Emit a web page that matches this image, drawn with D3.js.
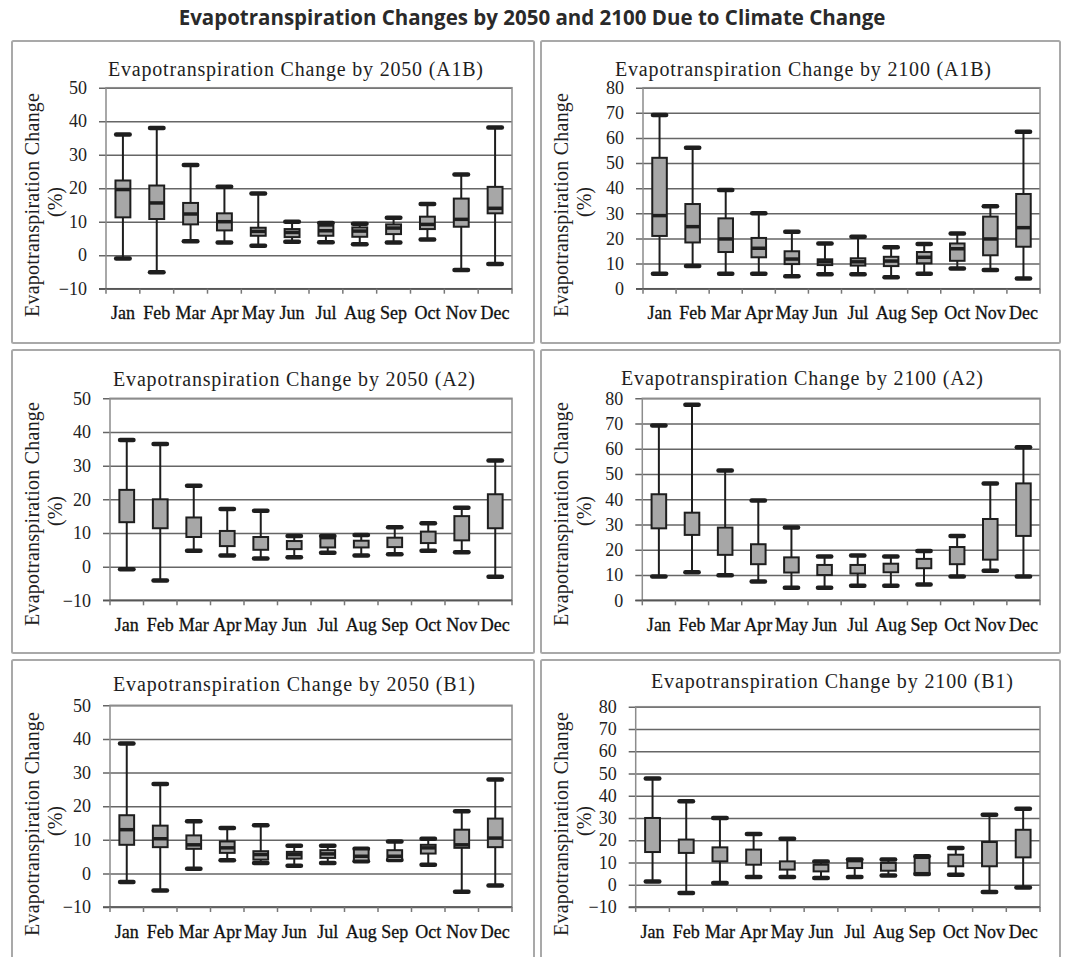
<!DOCTYPE html>
<html>
<head>
<meta charset="utf-8">
<script src="https://cdn.jsdelivr.net/npm/d3@7"></script>
<style>
  body { margin: 0; background: #fff; }
  svg { display: block; }
</style>
</head>
<body>
<svg id="chart" width="1065" height="957"></svg>
<script>
// Month categories shared by every panel
const months = ["Jan", "Feb", "Mar", "Apr", "May", "Jun", "Jul", "Aug", "Sep", "Oct", "Nov", "Dec"];

// Evapotranspiration change (%) — A1B scenario, 2050
const a1b2050Max = [36, 38, 26.9, 20.4, 18.4, 10, 9.6, 9.4, 11.2, 15.3, 24.1, 38.1];
const a1b2050Q3  = [22.3, 20.8, 15.6, 12.5, 8.2, 7.8, 8.8, 8.3, 9.2, 11.5, 16.9, 20.4];
const a1b2050Med = [19.6, 15.6, 12.3, 10, 7.1, 6.8, 7.3, 7.2, 8.1, 9.2, 10.7, 14];
const a1b2050Q1  = [11.3, 10.8, 9.2, 7.4, 5.8, 5.4, 5.8, 5.5, 6.3, 7.8, 8.5, 12.5];
const a1b2050Min = [-1, -5.1, 4.2, 3.8, 2.8, 4, 3.9, 3.3, 3.8, 4.7, -4.4, -2.6];

// A1B scenario, 2100
const a1b2100Max = [69.1, 56.1, 39.3, 30, 22.7, 18, 20.7, 16.5, 17.8, 22, 32.8, 62.5];
const a1b2100Q3  = [52.1, 33.7, 28, 20.2, 14.9, 11.7, 12.1, 12.7, 14.6, 18, 28.7, 37.7];
const a1b2100Med = [29.1, 24.7, 19.8, 16.1, 11.8, 10.7, 10.7, 11, 12.5, 15.9, 19.8, 24.3];
const a1b2100Q1  = [21, 18.4, 14.6, 12.5, 9.8, 9.4, 9.2, 9, 10.1, 11.1, 13.3, 16.7];
const a1b2100Min = [6, 9, 6, 6, 5, 5.8, 5.8, 4.6, 6, 8, 7.4, 4.1];

// A2 scenario, 2050
const a22050Max = [37.6, 36.4, 24, 17.1, 16.6, 9.1, 9.1, 9.4, 11.7, 12.9, 17.5, 31.5];
const a22050Q3  = [22.8, 20, 14.6, 10.6, 8.8, 7.6, 8.4, 7.7, 8.6, 10.4, 15, 21.5];
const a22050Q1  = [13.2, 11.4, 8.8, 6.1, 5, 5.2, 5.7, 5.7, 5.8, 7, 7.8, 11.4];
const a22050Min = [-0.8, -4.1, 4.7, 3.3, 2.4, 2.8, 4.1, 3.3, 3.7, 4.7, 4.3, -3];

// A2 scenario, 2100
const a22100Max = [69.2, 77.4, 51.4, 39.5, 28.8, 17.3, 17.7, 17.3, 19.5, 25.5, 46.3, 60.6];
const a22100Q3  = [42, 34.7, 28.8, 22.2, 17, 14, 14, 14.5, 16.4, 21.1, 32.2, 46.3];
const a22100Q1  = [28.5, 25.9, 18, 14.3, 11, 10, 10.6, 11.1, 12.7, 14.3, 16.1, 25.5];
const a22100Min = [9.4, 11.1, 9.9, 7.4, 5, 5, 5.8, 5.8, 6.3, 9.4, 11.7, 9.4];

// B1 scenario, 2050
const b12050Max = [38.6, 26.6, 15.5, 13.5, 14.3, 8.2, 8.2, 7.3, 9.5, 10.3, 18.5, 27.9];
const b12050Q3  = [17.3, 14.2, 11.3, 9.5, 6.6, 6.4, 6.9, 7.1, 6.9, 8.5, 13, 16.3];
const b12050Med = [13, 10.3, 8.5, 7.6, 5.6, 5.6, 5.8, 5.1, 5.1, 7.6, 8.5, 10.5];
const b12050Q1  = [8.5, 7.8, 7.3, 6.1, 4.1, 4.4, 4.6, 3.8, 4, 5.9, 7.6, 7.8];
const b12050Min = [-2.6, -5.1, 1.4, 3.9, 3.1, 2.3, 3.1, 3.6, 4, 2.6, -5.5, -3.6];

// B1 scenario, 2100
const b12100Max = [47.7, 37.5, 30, 22.8, 20.7, 10.5, 11.3, 11.3, 12.8, 16.5, 31.5, 34.2];
const b12100Q3  = [30, 20.3, 16.8, 15.8, 10.5, 9, 10.5, 9.8, 12, 13.5, 19.2, 24.7];
const b12100Q1  = [14.7, 14.3, 10.5, 9, 6.8, 6, 7.5, 6.3, 5.3, 8.3, 8.3, 12.3];
const b12100Min = [1.5, -3.7, 0.8, 3.5, 3.5, 3, 3.5, 4.2, 4.8, 4.5, -3.3, -1.2];

// Y-axis tick values
const ticks2050 = [-10, 0, 10, 20, 30, 40, 50];
const ticks2100 = [0, 10, 20, 30, 40, 50, 60, 70, 80];
const ticks2100B1 = [-10, 0, 10, 20, 30, 40, 50, 60, 70, 80];

const mainTitle = "Evapotranspiration Changes by 2050 and 2100 Due to Climate Change";
const yLabel = "Evapotranspiration Change";

// Panel layout: outer frame, plot rectangle, and title placement
const panels = [
  { title: "Evapotranspiration Change by 2050 (A1B)", frame: [12, 41, 522, 302], plot: [106, 87.7, 512, 288.7], titleX: 295.5, titleY: 76, titleLen: 375,
    ticks: ticks2050, max: a1b2050Max, q3: a1b2050Q3, med: a1b2050Med, q1: a1b2050Q1, min: a1b2050Min },
  { title: "Evapotranspiration Change by 2100 (A1B)", frame: [541, 41, 519, 302], plot: [643, 87.7, 1040, 288.7], titleX: 803, titleY: 76, titleLen: 376,
    ticks: ticks2100, max: a1b2100Max, q3: a1b2100Q3, med: a1b2100Med, q1: a1b2100Q1, min: a1b2100Min },
  { title: "Evapotranspiration Change by 2050 (A2)", frame: [12, 350, 522, 303], plot: [110, 398.3, 512, 600.3], titleX: 294, titleY: 385.5, titleLen: 362,
    ticks: ticks2050, max: a22050Max, q3: a22050Q3, med: null, q1: a22050Q1, min: a22050Min },
  { title: "Evapotranspiration Change by 2100 (A2)", frame: [541, 350, 519, 303], plot: [642.3, 398.3, 1040, 600.3], titleX: 802, titleY: 385, titleLen: 362,
    ticks: ticks2100, max: a22100Max, q3: a22100Q3, med: null, q1: a22100Q1, min: a22100Min },
  { title: "Evapotranspiration Change by 2050 (B1)", frame: [12, 660, 522, 310], plot: [110, 705.3, 512, 907], titleX: 294, titleY: 690.5, titleLen: 362,
    ticks: ticks2050, max: b12050Max, q3: b12050Q3, med: b12050Med, q1: b12050Q1, min: b12050Min },
  { title: "Evapotranspiration Change by 2100 (B1)", frame: [541, 660, 519, 310], plot: [635.7, 706.7, 1040, 907], titleX: 832, titleY: 687.5, titleLen: 362,
    ticks: ticks2100B1, max: b12100Max, q3: b12100Q3, med: null, q1: b12100Q1, min: b12100Min }
];

const serif = "'Liberation Serif', 'Times New Roman', serif";
const ink = "#1e1e1e";
const boxFill = "#a7a7a7";
const gridColor = "#666";
const frameColor = "#8c8c8c";

const svg = d3.select("#chart");

svg.append("text")
  .attr("x", 532).attr("y", 25)
  .attr("text-anchor", "middle")
  .attr("font-family", "'Open Sans', sans-serif")
  .attr("font-weight", 700)
  .attr("font-size", 20.5)
  .attr("fill", "#2a2a2a")
  .text(mainTitle);

panels.forEach(p => {
  const [fx, fy, fw, fh] = p.frame;
  const [left, top, right, bottom] = p.plot;

  // outer panel frame
  svg.append("rect")
    .attr("x", fx).attr("y", fy).attr("width", fw).attr("height", fh)
    .attr("fill", "none").attr("stroke", "#a9a9a9").attr("stroke-width", 2)
    .attr("rx", 1.5);

  const g = svg.append("g");

  const y = d3.scaleLinear()
    .domain([p.ticks[0], p.ticks[p.ticks.length - 1]])
    .range([bottom, top]);
  const x = d3.scaleBand().domain(months).range([left, right]).padding(0);

  // panel title
  g.append("text")
    .attr("x", p.titleX).attr("y", p.titleY)
    .attr("text-anchor", "middle")
    .attr("font-family", serif).attr("font-size", 20)
    .attr("fill", ink)
    .attr("textLength", p.titleLen).attr("lengthAdjust", "spacing")
    .text(p.title);

  // y axis with gridlines running across the plot
  const yAxis = g.append("g")
    .attr("transform", `translate(${left},0)`)
    .call(d3.axisLeft(y).tickValues(p.ticks).tickSize(-(right - left)).tickPadding(19).tickSizeOuter(0));
  yAxis.select(".domain").remove();
  yAxis.selectAll(".tick line")
    .attr("x1", -7)
    .attr("stroke", gridColor).attr("stroke-width", 1.5);
  yAxis.selectAll(".tick text")
    .attr("font-family", serif).attr("font-size", 18)
    .attr("fill", "#222");

  // plot frame
  g.append("rect")
    .attr("x", left).attr("y", top).attr("width", right - left).attr("height", bottom - top)
    .attr("fill", "none").attr("stroke", frameColor).attr("stroke-width", 1.5);
  g.append("line")
    .attr("x1", left - 7).attr("x2", right).attr("y1", bottom).attr("y2", bottom)
    .attr("stroke", "#555").attr("stroke-width", 1.6);

  // x axis: ticks on category boundaries, labels centred in each band
  const bounds = months.map(m => x(m)).concat([right]);
  g.selectAll(".xtick").data(bounds).join("line")
    .attr("x1", d => d).attr("x2", d => d)
    .attr("y1", bottom).attr("y2", bottom + 5)
    .attr("stroke", "#777").attr("stroke-width", 1.5);
  const xAxis = g.append("g")
    .attr("transform", `translate(0,${bottom})`)
    .call(d3.axisBottom(x).tickSize(0).tickPadding(18));
  xAxis.select(".domain").remove();
  xAxis.selectAll(".tick text")
    .attr("font-family", serif).attr("font-size", 18)
    .attr("fill", "#111")
    .attr("stroke", "#111").attr("stroke-width", 0.3);

  // y-axis title, two lines rotated
  g.append("text")
    .attr("transform", `translate(${fx + 27},${fy + 164}) rotate(-90)`)
    .attr("text-anchor", "middle")
    .attr("font-family", serif).attr("font-size", 20)
    .attr("fill", ink)
    .attr("textLength", 224).attr("lengthAdjust", "spacing")
    .text(yLabel);
  g.append("text")
    .attr("transform", `translate(${fx + 50},${fy + 161}) rotate(-90)`)
    .attr("text-anchor", "middle")
    .attr("font-family", serif).attr("font-size", 20)
    .attr("fill", ink)
    .text("(%)");

  // box plots
  const bw = x.bandwidth() * 0.44;
  const capW = x.bandwidth() * 0.4;
  const stats = months.map((m, i) => ({
    m, max: p.max[i], q3: p.q3[i], q1: p.q1[i], min: p.min[i],
    med: p.med ? p.med[i] : null
  }));
  const cx = d => x(d.m) + x.bandwidth() / 2;

  const boxes = g.append("g").selectAll("g").data(stats).join("g");
  boxes.append("line")
    .attr("x1", cx).attr("x2", cx)
    .attr("y1", d => y(d.max)).attr("y2", d => y(d.min))
    .attr("stroke", ink).attr("stroke-width", 2);
  boxes.append("line")
    .attr("x1", d => cx(d) - capW / 2).attr("x2", d => cx(d) + capW / 2)
    .attr("y1", d => y(d.max)).attr("y2", d => y(d.max))
    .attr("stroke", ink).attr("stroke-width", 4.5).attr("stroke-linecap", "round");
  boxes.append("line")
    .attr("x1", d => cx(d) - capW / 2).attr("x2", d => cx(d) + capW / 2)
    .attr("y1", d => y(d.min)).attr("y2", d => y(d.min))
    .attr("stroke", ink).attr("stroke-width", 4.5).attr("stroke-linecap", "round");
  boxes.append("rect")
    .attr("x", d => cx(d) - bw / 2).attr("width", bw)
    .attr("y", d => y(d.q3)).attr("height", d => y(d.q1) - y(d.q3))
    .attr("fill", boxFill).attr("stroke", ink).attr("stroke-width", 2);
  boxes.filter(d => d.med !== null).append("line")
    .attr("x1", d => cx(d) - bw / 2).attr("x2", d => cx(d) + bw / 2)
    .attr("y1", d => y(d.med)).attr("y2", d => y(d.med))
    .attr("stroke", ink).attr("stroke-width", 3.5);
});
</script>
</body>
</html>
